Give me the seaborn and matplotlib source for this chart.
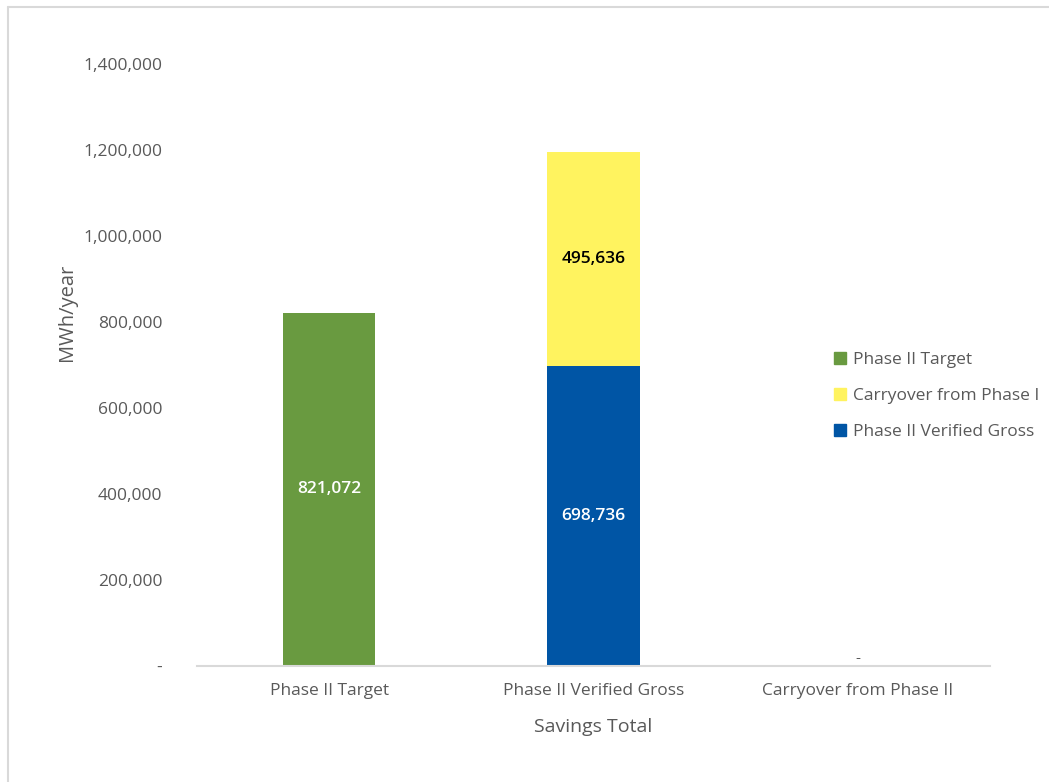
import pandas as pd
import matplotlib
matplotlib.use("Agg")
import matplotlib.pyplot as plt
import seaborn as sns
from matplotlib.patches import Patch
from matplotlib.ticker import FuncFormatter

# Data
categories = ["Phase II Target", "Phase II Verified Gross", "Carryover from Phase II"]
target = [821072, 0, 0]
verified_gross = [0, 698736, 0]
carryover_phase1 = [0, 495636, 0]

df = pd.DataFrame({
    "category": categories,
    "target": target,
    "verified": verified_gross,
    "carryover": carryover_phase1,
})

c_green = "#699A40"
c_yellow = "#FFF35F"
c_blue = "#0055A5"
c_text = "#595959"

sns.set_theme(style="white")
plt.rcParams["font.family"] = ["Open Sans", "DejaVu Sans"]

fig = plt.figure(figsize=(10.49, 7.82), dpi=100)
ax = fig.add_axes([197 / 1049, 1 - 666 / 782, 793 / 1049, (666 - 64) / 782])

bar_w = 0.35
sns.barplot(data=df, x="category", y="target", color=c_green, width=bar_w,
            saturation=1, ax=ax, linewidth=0)
sns.barplot(data=df, x="category", y="verified", color=c_blue, width=bar_w,
            saturation=1, ax=ax, linewidth=0)
sns.barplot(data=df, x="category", y="carryover", color=c_yellow, width=bar_w,
            saturation=1, ax=ax, linewidth=0, bottom=df["verified"])

# data labels
for i, row in df.iterrows():
    if row["target"] > 0:
        ax.text(i, row["target"] / 2, f"{row['target']:,}", ha="center", va="center",
                color="white", fontsize=12.5, fontweight="semibold")
    if row["verified"] > 0:
        ax.text(i, row["verified"] / 2, f"{row['verified']:,}", ha="center", va="center",
                color="white", fontsize=12.5, fontweight="semibold")
    if row["carryover"] > 0:
        ax.text(i, row["verified"] + row["carryover"] / 2, f"{row['carryover']:,}",
                ha="center", va="center", color="black", fontsize=12.5, fontweight="semibold")
    if row["target"] + row["verified"] + row["carryover"] == 0:
        ax.text(i, 0, "-", ha="center", va="bottom", color=c_text, fontsize=11)

ax.set_ylim(0, 1400000)
ax.set_xlim(-0.5, 2.5)
ax.set_yticks(range(0, 1400001, 200000))
ax.yaxis.set_major_formatter(FuncFormatter(lambda v, p: "-" if v == 0 else f"{int(v):,}"))
ax.tick_params(axis="both", length=0, labelsize=12.5, colors=c_text)
ax.tick_params(axis="y", pad=25)
ax.tick_params(axis="x", pad=12)

for s in ["top", "right", "left"]:
    ax.spines[s].set_visible(False)
ax.spines["bottom"].set_color("#D9D9D9")
ax.spines["bottom"].set_linewidth(1.5)

ax.set_ylabel("MWh/year", fontsize=14.5, color=c_text)
ax.yaxis.set_label_coords((77 - 197) / 793, (666 - 312) / 602)
ax.set_xlabel("Savings Total", fontsize=14, color=c_text, labelpad=14)

handles = [
    Patch(color=c_green, label="Phase II Target"),
    Patch(color=c_yellow, label="Carryover from Phase I"),
    Patch(color=c_blue, label="Phase II Verified Gross"),
]
fig.legend(handles=handles, loc="center left", bbox_to_anchor=(818 / 1049, 1 - 396 / 782),
           frameon=False, fontsize=12.5, handlelength=0.7, handleheight=0.7,
           handletextpad=0.4, labelspacing=1.15, labelcolor=c_text)

# light border at top and left of the chart area
fig.add_artist(plt.Line2D([8 / 1049, 8 / 1049], [0, 1 - 7 / 782], color="#D9D9D9", lw=1.5))
fig.add_artist(plt.Line2D([8 / 1049, 1], [1 - 7 / 782, 1 - 7 / 782], color="#D9D9D9", lw=1.5))

fig.savefig("out.png", dpi=100)
